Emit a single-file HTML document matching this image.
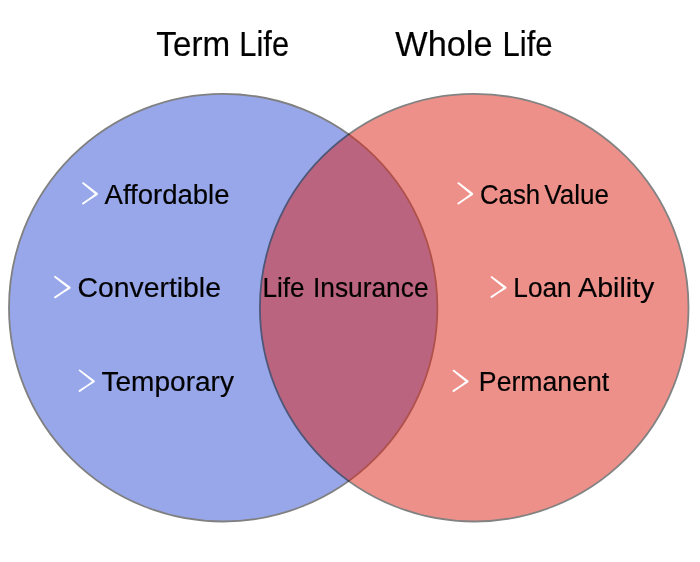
<!DOCTYPE html>
<html><head><meta charset="utf-8"><style>
html,body{margin:0;padding:0;background:#fff;width:700px;height:562px;overflow:hidden}
svg{display:block}
text{font-family:"Liberation Sans",sans-serif;fill:#000;stroke:#000;stroke-width:0.2px}
.t{will-change:transform}
</style></head><body>
<svg width="700" height="562" viewBox="0 0 700 562">
<rect width="700" height="562" fill="#fff"/>
<ellipse cx="223.2" cy="307.65" rx="214.2" ry="213.85" fill="#98a7e9" stroke="#808080" stroke-width="1.8"/>
<g opacity="0.5"><ellipse cx="474.2" cy="307.65" rx="214.3" ry="213.85" fill="#df2317" stroke="#080808" stroke-width="1.8"/></g>
<g fill="#fff">
<path d="M82.47,183.66 L96.05,194.94 L97.55,193.06 L83.53,182.34ZM96.14,193.05 L89.47,198.05 L90.43,199.45 L97.46,194.95ZM89.47,198.05 L82.53,202.68 L83.67,204.32 L90.43,199.45ZM82.15,183.00 a0.85,0.85 0 1,0 1.7,0 a0.85,0.85 0 1,0 -1.7,0ZM82.05,203.50 a1.05,1.05 0 1,0 2.1,0 a1.05,1.05 0 1,0 -2.1,0ZM95.65,194.00 a1.15,1.15 0 1,0 2.3,0 a1.15,1.15 0 1,0 -2.3,0ZM89.10,198.75 a0.85,0.85 0 1,0 1.7,0 a0.85,0.85 0 1,0 -1.7,0Z"/>
<path d="M54.48,277.38 L68.77,288.70 L70.23,286.80 L55.52,276.02ZM68.86,286.79 L61.83,291.82 L62.77,293.23 L70.14,288.71ZM61.83,291.82 L54.55,296.47 L55.65,298.13 L62.77,293.23ZM54.15,276.70 a0.85,0.85 0 1,0 1.7,0 a0.85,0.85 0 1,0 -1.7,0ZM54.05,297.30 a1.05,1.05 0 1,0 2.1,0 a1.05,1.05 0 1,0 -2.1,0ZM68.35,287.75 a1.15,1.15 0 1,0 2.3,0 a1.15,1.15 0 1,0 -2.3,0ZM61.45,292.52 a0.85,0.85 0 1,0 1.7,0 a0.85,0.85 0 1,0 -1.7,0Z"/>
<path d="M79.08,370.97 L93.06,382.30 L94.54,380.40 L80.12,369.63ZM93.16,380.40 L86.27,385.42 L87.23,386.83 L94.44,382.30ZM86.27,385.42 L79.14,390.07 L80.26,391.73 L87.23,386.83ZM78.75,370.30 a0.85,0.85 0 1,0 1.7,0 a0.85,0.85 0 1,0 -1.7,0ZM78.65,390.90 a1.05,1.05 0 1,0 2.1,0 a1.05,1.05 0 1,0 -2.1,0ZM92.65,381.35 a1.15,1.15 0 1,0 2.3,0 a1.15,1.15 0 1,0 -2.3,0ZM85.90,386.12 a0.85,0.85 0 1,0 1.7,0 a0.85,0.85 0 1,0 -1.7,0Z"/>
<path d="M457.77,183.66 L471.35,194.94 L472.85,193.06 L458.83,182.34ZM471.44,193.05 L464.77,198.05 L465.73,199.45 L472.76,194.95ZM464.77,198.05 L457.83,202.68 L458.97,204.32 L465.73,199.45ZM457.45,183.00 a0.85,0.85 0 1,0 1.7,0 a0.85,0.85 0 1,0 -1.7,0ZM457.35,203.50 a1.05,1.05 0 1,0 2.1,0 a1.05,1.05 0 1,0 -2.1,0ZM470.95,194.00 a1.15,1.15 0 1,0 2.3,0 a1.15,1.15 0 1,0 -2.3,0ZM464.40,198.75 a0.85,0.85 0 1,0 1.7,0 a0.85,0.85 0 1,0 -1.7,0Z"/>
<path d="M490.98,277.67 L504.67,288.65 L506.13,286.75 L492.02,276.33ZM504.76,286.74 L498.03,291.59 L498.97,293.01 L506.04,288.66ZM498.03,291.59 L491.05,296.07 L492.15,297.73 L498.97,293.01ZM490.65,277.00 a0.85,0.85 0 1,0 1.7,0 a0.85,0.85 0 1,0 -1.7,0ZM490.55,296.90 a1.05,1.05 0 1,0 2.1,0 a1.05,1.05 0 1,0 -2.1,0ZM504.25,287.70 a1.15,1.15 0 1,0 2.3,0 a1.15,1.15 0 1,0 -2.3,0ZM497.65,292.30 a0.85,0.85 0 1,0 1.7,0 a0.85,0.85 0 1,0 -1.7,0Z"/>
<path d="M452.97,371.17 L466.66,382.39 L468.14,380.51 L454.03,369.83ZM466.75,380.50 L460.02,385.47 L460.98,386.88 L468.05,382.40ZM460.02,385.47 L453.03,390.07 L454.17,391.73 L460.98,386.88ZM452.65,370.50 a0.85,0.85 0 1,0 1.7,0 a0.85,0.85 0 1,0 -1.7,0ZM452.55,390.90 a1.05,1.05 0 1,0 2.1,0 a1.05,1.05 0 1,0 -2.1,0ZM466.25,381.45 a1.15,1.15 0 1,0 2.3,0 a1.15,1.15 0 1,0 -2.3,0ZM459.65,386.17 a0.85,0.85 0 1,0 1.7,0 a0.85,0.85 0 1,0 -1.7,0Z"/>
</g>
<g class="t" opacity="0.999">
<text transform="translate(156.34,56.00) scale(0.9483,0.98)" font-size="35">Term</text>
<text transform="translate(239.33,56.00) scale(0.8823,0.98)" font-size="35">Life</text>
<text transform="translate(395.30,56.00) scale(0.9802,0.98)" font-size="35">Whole</text>
<text transform="translate(502.51,56.00) scale(0.8880,0.98)" font-size="35">Life</text>
<text transform="translate(104.60,204.00) scale(0.9493,0.95)" font-size="29">Affordable</text>
<text transform="translate(77.58,297.20) scale(0.9779,0.95)" font-size="29">Convertible</text>
<text transform="translate(101.44,391.00) scale(0.9677,0.95)" font-size="29">Temporary</text>
<text transform="translate(262.51,297.20) scale(0.9012,0.95)" font-size="29">Life</text>
<text transform="translate(312.93,297.20) scale(0.9079,0.95)" font-size="29">Insurance</text>
<text transform="translate(480.01,204.00) scale(0.8883,0.95)" font-size="29">Cash</text>
<text transform="translate(544.30,204.00) scale(0.8976,0.95)" font-size="29">Value</text>
<text transform="translate(513.30,297.20) scale(0.9048,0.95)" font-size="29">Loan</text>
<text transform="translate(578.10,297.20) scale(0.9863,0.95)" font-size="29">Ability</text>
<text transform="translate(478.87,391.00) scale(0.9191,0.95)" font-size="29">Permanent</text>
</g>
</svg>
</body></html>
